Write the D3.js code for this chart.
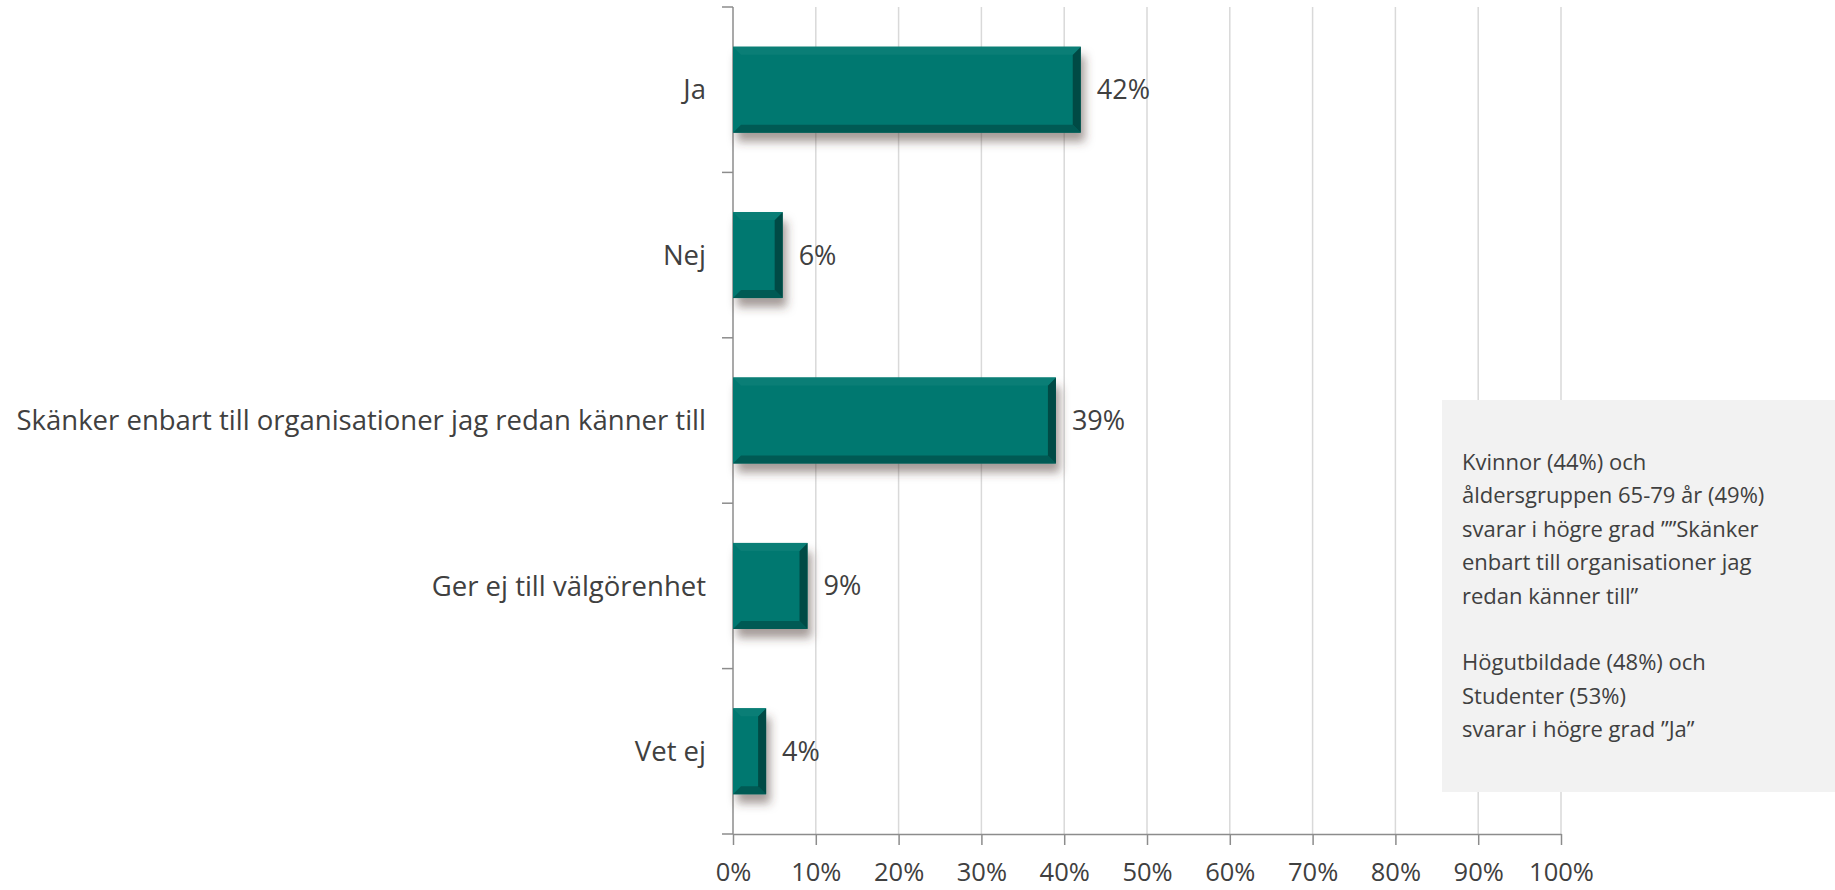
<!DOCTYPE html>
<html lang="sv">
<head>
<meta charset="UTF-8">
<title>Chart</title>
<script src="https://d3js.org/d3.v7.min.js"></script>
<style>
  body { margin: 0; background: #fff; }
  text { font-family: "Open Sans", sans-serif; fill: #404040; }
</style>
</head>
<body>
<div class="box"></div>
<script>
let categories = ['Ja', 'Nej', 'Skänker enbart till organisationer jag redan känner till', 'Ger ej till välgörenhet', 'Vet ej']
let values = [42, 6, 39, 9, 4]
let xTicks = [0, 10, 20, 30, 40, 50, 60, 70, 80, 90, 100]
let noteLines = [
  'Kvinnor (44%) och',
  'åldersgruppen 65-79 år (49%)',
  'svarar i högre grad ””Skänker',
  'enbart till organisationer jag',
  'redan känner till”',
  '',
  'Högutbildade (48%) och',
  'Studenter (53%)',
  'svarar i högre grad ”Ja”'
]

let width = 1835
let height = 890
let margin = { top: 7, left: 733, right: 274, bottom: 56 }
let x0 = margin.left, x1 = width - margin.right
let y0 = margin.top, y1 = height - margin.bottom

let svg = d3.select('.box').append('svg').attr('width', width).attr('height', height)
let defs = svg.append('defs')
let f = defs.append('filter').attr('id', 'shadow').attr('x', '-20%').attr('y', '-30%').attr('width', '160%').attr('height', '180%')
f.append('feDropShadow').attr('dx', 4).attr('dy', 9).attr('stdDeviation', 5)
  .attr('flood-color', '#4a3530').attr('flood-opacity', 0.5)

let x = d3.scaleLinear().domain([0, 100]).range([x0, x1])
let y = d3.scaleBand().domain(categories).range([y0, y1]).paddingInner(0.48).paddingOuter(0.24)

// gridlines
svg.append('g').selectAll('line').data(xTicks.slice(1)).enter().append('line')
  .attr('x1', d => x(d)).attr('x2', d => x(d))
  .attr('y1', y0).attr('y2', y1)
  .attr('stroke', '#d9d9d9').attr('stroke-width', 1.5)

// x axis
let xAxis = svg.append('g').attr('transform', `translate(0,${y1})`)
  .call(d3.axisBottom(x).tickValues(xTicks).tickSize(11).tickSizeOuter(0).tickFormat(d => d + '%'))
xAxis.select('.domain').attr('stroke', '#8c8c8c').attr('stroke-width', 1.5)
xAxis.selectAll('.tick line').attr('stroke', '#8c8c8c').attr('stroke-width', 1.5)
xAxis.selectAll('.tick text').attr('font-size', 25.5).attr('dy', 0).attr('y', 47)
  .style('font-family', '"Open Sans", sans-serif').attr('fill', '#404040')

// y axis line and boundary ticks
let bounds = d3.range(categories.length + 1).map(i => y0 + i * (y1 - y0) / categories.length)
svg.append('line').attr('x1', x0).attr('x2', x0).attr('y1', y0).attr('y2', y1)
  .attr('stroke', '#8c8c8c').attr('stroke-width', 1.5)
svg.append('g').selectAll('line').data(bounds).enter().append('line')
  .attr('x1', x0 - 11).attr('x2', x0).attr('y1', d => d).attr('y2', d => d)
  .attr('stroke', '#8c8c8c').attr('stroke-width', 1.5)

// bars
let bars = svg.append('g').selectAll('g').data(values).enter().append('g')
  .attr('transform', (d, i) => `translate(${x0},${y(categories[i])})`)
let bh = y.bandwidth()
let bev = 8
bars.append('rect').attr('filter', 'url(#shadow)')
  .attr('width', d => x(d) - x0).attr('height', bh).attr('fill', '#007870')
// bottom bevel
bars.append('path').attr('fill', '#005a54')
  .attr('d', d => { let w = x(d) - x0; return `M0,${bh}L${bev},${bh - bev}L${w - bev},${bh - bev}L${w},${bh}Z` })
// right bevel
bars.append('path').attr('fill', '#004a45')
  .attr('d', d => { let w = x(d) - x0; return `M${w},0L${w - bev},${bev}L${w - bev},${bh - bev}L${w},${bh}Z` })
// top bevel
bars.append('path').attr('fill', '#0a7e76')
  .attr('d', d => { let w = x(d) - x0; return `M0,0L${w},0L${w - bev},${bev}L${bev},${bev}Z` })

// value labels
bars.append('text').attr('x', d => x(d) - x0 + 16).attr('y', bh / 2).attr('dy', '0.35em')
  .attr('font-size', 27).text(d => d + '%')

// category labels
svg.append('g').selectAll('text').data(categories).enter().append('text')
  .attr('x', x0 - 27).attr('y', d => y(d) + bh / 2).attr('dy', '0.35em')
  .attr('text-anchor', 'end').attr('font-size', 27.5).text(d => d)

// note box
svg.append('rect').attr('x', 1442).attr('y', 400).attr('width', width - 1442).attr('height', 392).attr('fill', '#f2f2f2')
svg.append('g').selectAll('text').data(noteLines).enter().append('text')
  .attr('x', 1462).attr('y', (d, i) => 470 + i * 33.4)
  .attr('font-size', 22).text(d => d)
</script>
</body>
</html>
